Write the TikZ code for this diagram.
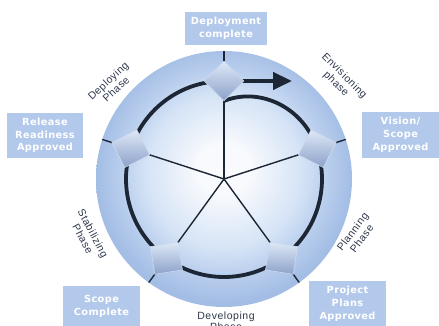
\documentclass[tikz,border=0pt]{standalone}
\usepackage{fontspec}
\setmainfont{DejaVu Sans}
\newfontfamily\boxfont[LetterSpace=4]{DejaVu Sans}
\newfontfamily\phasefont[LetterSpace=5]{Liberation Sans}
\usetikzlibrary{calc,arrows.meta}
\definecolor{boxfill}{RGB}{178,201,235}
\definecolor{darkline}{RGB}{28,38,52}
\definecolor{phasetext}{RGB}{45,55,75}
\definecolor{sph0}{RGB}{248,250,253}
\definecolor{sph1}{RGB}{214,228,246}
\definecolor{sph2}{RGB}{186,207,238}
\definecolor{sph3}{RGB}{163,189,228}
\definecolor{diaml}{RGB}{222,232,246}
\definecolor{diamd}{RGB}{140,162,202}
\definecolor{diamb}{RGB}{205,218,240}
\pgfdeclareradialshading{sphere}{\pgfpoint{0bp}{2bp}}{color(0bp)=(sph0); color(5bp)=(sph0); color(15bp)=(sph1); color(20bp)=(sph2); color(25bp)=(sph3); color(50bp)=(sph3)}
\tikzset{
  spoke/.style={draw=darkline, line width=1.4pt},
  ringline/.style={draw=darkline, line width=3.8pt},
  arrowline/.style={draw=darkline, line width=4.5pt, -{Triangle[length=19pt,width=17pt]}},
  diam/.style={rectangle, minimum size=28pt, inner sep=0pt, draw=diamb, line width=0.6pt, top color=diaml, bottom color=diamd},
  lbox/.style={rectangle, fill=boxfill, text=white, align=center, inner sep=0pt,
    font=\boxfont\bfseries\fontsize{9.8}{12.8}\selectfont},
  phase/.style={text=phasetext, align=center, inner sep=0pt,
    font=\phasefont\fontsize{10.5}{11.5}\selectfont}
}
\begin{document}
\begin{tikzpicture}[x=1pt,y=1pt]
\useasboundingbox (0,0) rectangle (439,326);
\coordinate (hub) at (224,147);
\shade[shading=sphere] (hub) circle (128);
\foreach \a/\n in {90/1,18/2,-54/3,-126/4,162/5}{
  \coordinate (p\n) at ($(hub)+(\a:98)$);
  \coordinate (e\n) at ($(hub)+(\a:128)$);
  \draw[spoke] (hub) -- (e\n);
}
\draw[ringline] plot[domain=90:-270, samples=180, variable=\t]
  ({224+(98-20*(max(0,\t-18)/72)^2)*cos(\t)}, {147+(98-20*(max(0,\t-18)/72)^2)*sin(\t)});
\coordinate (tip) at (292,245);
\draw[arrowline] (p1) -- (tip);
\foreach \a/\n in {90/1,18/2,-54/3,-126/4,162/5}{
  \node[diam, rotate=\a-45] (d\n) at (p\n) {};
}
\node[lbox, minimum width=82pt, minimum height=33pt] (b1) at (226,297.5) {Deployment\\complete};
\node[lbox, minimum width=77pt, minimum height=46pt] (b2) at (400.5,191) {Vision/\\Scope\\Approved};
\node[lbox, minimum width=76pt, minimum height=45pt] (b3) at (45,190.5) {Release\\Readiness\\Approved};
\node[lbox, minimum width=77pt, minimum height=40pt] (b4) at (101.5,20) {Scope\\Complete};
\node[lbox, minimum width=77pt, minimum height=45pt] (b5) at (347.5,22.5) {Project\\Plans\\Approved};
\node[phase, rotate=43] (l1) at (112,241) {Deploying\\Phase};
\node[phase, rotate=-45] (l2) at (340,246) {Envisioning\\phase};
\node[phase, rotate=53] (l3) at (357,91) {Planning\\Phase};
\node[phase, rotate=-62] (l4) at (88,90) {Stabilizing\\Phase};
\node[phase] (l5) at (226,5) {Developing\\Phase};
\end{tikzpicture}
\end{document}
